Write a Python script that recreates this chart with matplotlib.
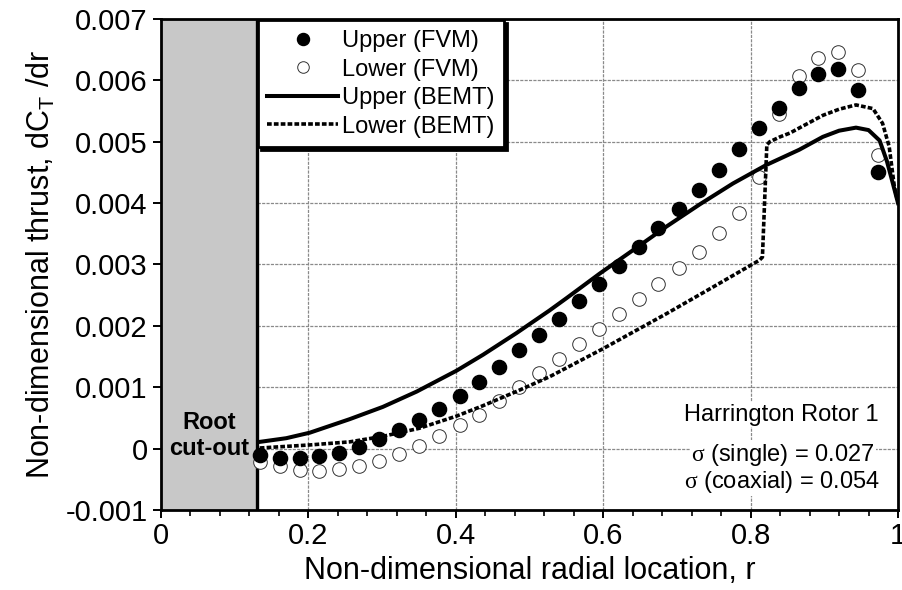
import matplotlib
matplotlib.use("Agg")
import matplotlib.pyplot as plt
from matplotlib.ticker import MultipleLocator, FixedLocator

plt.rcParams["font.family"] = ["Liberation Sans", "DejaVu Sans"]
plt.rcParams["mathtext.fontset"] = "custom"
plt.rcParams["mathtext.rm"] = "Liberation Serif"
plt.rcParams["mathtext.sf"] = "Liberation Sans"

# FVM radial stations (same for both rotors)
r_fvm = [0.134, 0.161, 0.188, 0.215, 0.242, 0.269, 0.296, 0.323, 0.350, 0.377,
         0.405, 0.432, 0.459, 0.486, 0.513, 0.540, 0.567, 0.594, 0.621, 0.648,
         0.675, 0.703, 0.730, 0.757, 0.784, 0.811, 0.838, 0.865, 0.892, 0.919,
         0.946, 0.973]
upper_fvm = [-0.00010, -0.00016, -0.00016, -0.00012, -0.00007, 0.00003, 0.00015, 0.00030,
             0.00047, 0.00065, 0.00086, 0.00109, 0.00133, 0.00160, 0.00185, 0.00212,
             0.00241, 0.00269, 0.00298, 0.00328, 0.00359, 0.00390, 0.00422, 0.00454,
             0.00488, 0.00522, 0.00555, 0.00587, 0.00611, 0.00618, 0.00585, 0.00450]
lower_fvm = [-0.00022, -0.00029, -0.00035, -0.00037, -0.00034, -0.00028, -0.00020, -0.00009,
             0.00005, 0.00021, 0.00038, 0.00055, 0.00078, 0.00100, 0.00123, 0.00146,
             0.00170, 0.00195, 0.00219, 0.00243, 0.00268, 0.00294, 0.00320, 0.00352,
             0.00384, 0.00443, 0.00545, 0.00607, 0.00637, 0.00647, 0.00617, 0.00478]

# BEMT curves
r_upper_bemt = [0.134, 0.170, 0.202, 0.256, 0.301, 0.347, 0.401, 0.437, 0.482, 0.527, 0.550,
                0.595, 0.640, 0.686, 0.731, 0.776, 0.821, 0.866, 0.898, 0.920, 0.943,
                0.960, 0.975, 0.985, 0.993, 1.000]
upper_bemt = [0.00011, 0.00017, 0.00026, 0.00048, 0.00068, 0.00093, 0.00127, 0.00153, 0.00188,
              0.00225, 0.00245, 0.00285, 0.00323, 0.00362, 0.00398, 0.00432, 0.00462, 0.00487,
              0.00508, 0.00518, 0.00523, 0.00519, 0.00502, 0.00468, 0.00432, 0.00400]
r_lower_bemt = [0.134, 0.202, 0.256, 0.301, 0.350, 0.401, 0.437, 0.482, 0.527, 0.600,
                0.686, 0.750, 0.812, 0.816, 0.822, 0.826, 0.840, 0.853, 0.870, 0.898,
                0.920, 0.943, 0.966, 0.979, 0.988, 0.995, 1.000]
lower_bemt = [0.00001, 0.00006, 0.00011, 0.00020, 0.00033, 0.00053, 0.00070, 0.00093, 0.00117,
              0.00163, 0.00220, 0.00264, 0.00307, 0.00312, 0.00495, 0.00500, 0.00508, 0.00514,
              0.00525, 0.00543, 0.00553, 0.00560, 0.00554, 0.00530, 0.00492, 0.00427, 0.00400]

ROOT_CUT = 0.13

fig = plt.figure(figsize=(9.03, 5.9), dpi=100)
ax = fig.add_axes([0.1783, 0.1356, 0.8162, 0.8322])

ax.axvspan(0, ROOT_CUT, color="#c8c8c8", zorder=1.5, lw=0)
ax.axvline(ROOT_CUT, color="k", lw=2.4, zorder=1.6)

ax.plot(r_fvm, lower_fvm, ls="none", marker="o", ms=9.8, mfc="white", mec="#333333",
        mew=0.7, label="Lower (FVM)", zorder=3)
ax.plot(r_fvm, upper_fvm, ls="none", marker="o", ms=10.2, mfc="k", mec="k",
        label="Upper (FVM)", zorder=4)
ax.plot(r_upper_bemt, upper_bemt, color="k", lw=2.9, label="Upper (BEMT)", zorder=5)
ax.plot(r_lower_bemt, lower_bemt, color="k", lw=2.6, ls=(0, (1.3, 0.6)),
        label="Lower (BEMT)", zorder=5)

ax.set_xlim(0, 1)
ax.set_ylim(-0.001, 0.007)
ax.xaxis.set_major_locator(FixedLocator([0, 0.2, 0.4, 0.6, 0.8, 1.0]))
ax.xaxis.set_minor_locator(MultipleLocator(0.04))
ax.set_xticklabels(["0", "0.2", "0.4", "0.6", "0.8", "1"])
yt = [-0.001, 0, 0.001, 0.002, 0.003, 0.004, 0.005, 0.006, 0.007]
ax.set_yticks(yt)
ax.set_yticklabels(["-0.001", "0", "0.001", "0.002", "0.003", "0.004", "0.005", "0.006", "0.007"])
ax.tick_params(axis="both", which="major", direction="out", labelsize=21, width=1.4, length=6)
ax.tick_params(axis="x", which="minor", direction="out", width=1.2, length=4)
ax.tick_params(axis="x", pad=3)

ax.grid(True, which="major", color="#8a8a8a", ls=(0, (2.5, 1)), lw=0.9)
ax.set_axisbelow(True)
for s in ax.spines.values():
    s.set_linewidth(2.0)

ax.set_xlabel("Non-dimensional radial location, r", fontsize=22, labelpad=4)
ax.set_ylabel(r"Non-dimensional thrust, dC$_\mathsf{T}$ /dr", fontsize=22, labelpad=6)

ax.text(ROOT_CUT / 2, 0.00021, "Root\ncut-out", ha="center", va="center",
        fontsize=17, fontweight="bold", linespacing=1.15, zorder=6)

box = dict(facecolor="white", edgecolor="none", pad=1.0)
ax.text(0.842, 0.00055, "Harrington Rotor 1", ha="center", va="center", fontsize=17,
        bbox=box, zorder=6)
ax.text(0.844, -0.00010, r"$\mathrm{\sigma}$ (single) = 0.027", ha="center", va="center",
        fontsize=17, bbox=box, zorder=6)
ax.text(0.843, -0.00054, r"$\mathrm{\sigma}$ (coaxial) = 0.054", ha="center", va="center",
        fontsize=17, bbox=box, zorder=6)

handles, labels = ax.get_legend_handles_labels()
order = [1, 0, 2, 3]
leg = ax.legend([handles[i] for i in order], [labels[i] for i in order],
                loc="upper left", bbox_to_anchor=(0.1316, 0.997), borderaxespad=0,
                fontsize=17, handlelength=3.0, handletextpad=0.15, labelspacing=0.28,
                borderpad=0.4, fancybox=False, framealpha=1, edgecolor="k",
                markerscale=0.85, shadow={"color": "k", "alpha": 1})
leg.get_frame().set_linewidth(2.0)
leg.set_zorder(10)

fig.savefig("out.png", dpi=100)
